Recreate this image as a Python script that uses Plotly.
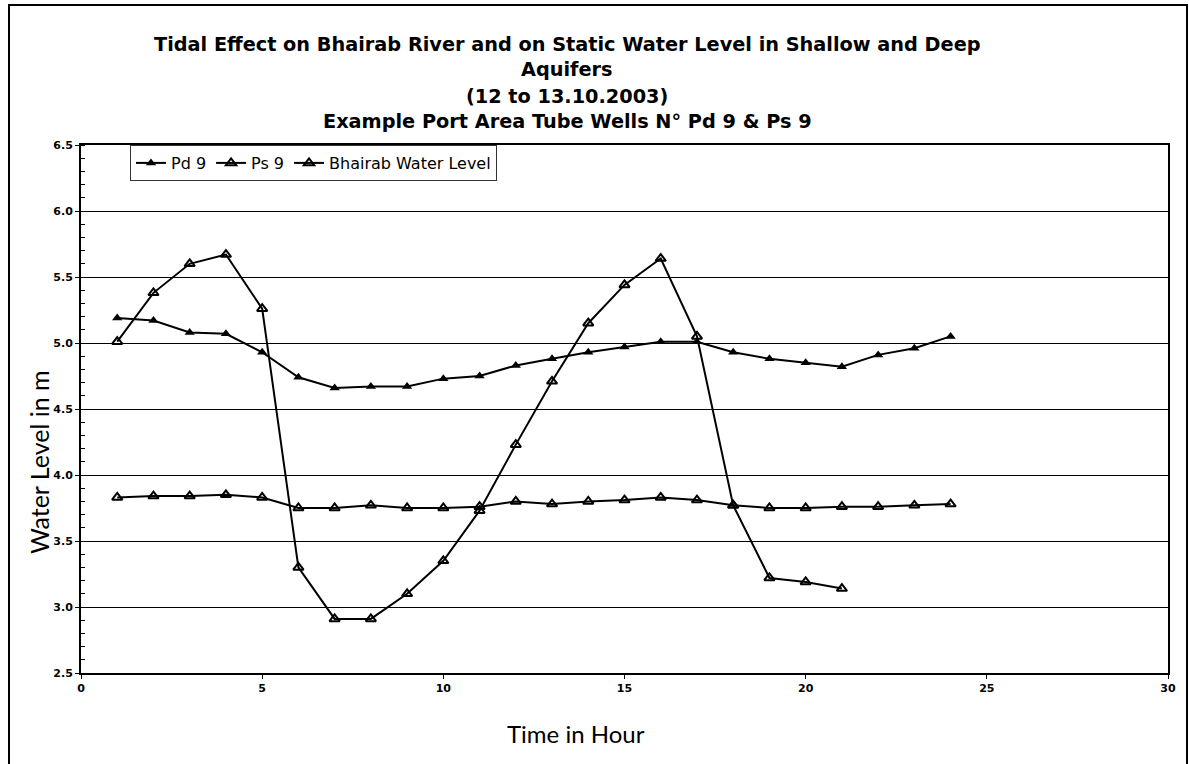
import plotly.graph_objects as go

hours_wells = list(range(1, 25))
hours_river = list(range(1, 22))

pd9 = [5.19, 5.17, 5.08, 5.07, 4.93, 4.74, 4.66, 4.67, 4.67, 4.73, 4.75, 4.83,
       4.88, 4.93, 4.97, 5.01, 5.01, 4.93, 4.88, 4.85, 4.82, 4.91, 4.96, 5.05]
ps9 = [3.83, 3.84, 3.84, 3.85, 3.83, 3.75, 3.75, 3.77, 3.75, 3.75, 3.76, 3.80,
       3.78, 3.80, 3.81, 3.83, 3.81, 3.77, 3.75, 3.75, 3.76, 3.76, 3.77, 3.78]
bhairab = [5.01, 5.38, 5.60, 5.67, 5.26, 3.30, 2.91, 2.91, 3.10, 3.35, 3.73,
           4.23, 4.71, 5.15, 5.44, 5.64, 5.05, 3.77, 3.22, 3.19, 3.14]

title_lines = [
    "Tidal Effect on Bhairab River and on Static Water Level in Shallow and Deep",
    "Aquifers",
    "(12 to 13.10.2003)",
    "Example Port Area Tube Wells N\u00b0 Pd 9 & Ps 9",
]
x_ticks = [0, 5, 10, 15, 20, 25, 30]
y_ticks = [2.5, 3.0, 3.5, 4.0, 4.5, 5.0, 5.5, 6.0, 6.5]

fig = go.Figure()
fig.add_trace(go.Scatter(x=hours_wells, y=pd9, name="Pd 9", mode="lines+markers",
                         line=dict(color="black", width=2),
                         marker=dict(symbol="triangle-up", size=9, color="black")))
fig.add_trace(go.Scatter(x=hours_wells, y=ps9, name="Ps 9", mode="lines+markers",
                         line=dict(color="black", width=2),
                         marker=dict(symbol="triangle-up-open", size=9, color="black",
                                     line=dict(width=2, color="black"))))
fig.add_trace(go.Scatter(x=hours_river, y=bhairab, name="Bhairab Water Level",
                         mode="lines+markers",
                         line=dict(color="black", width=2),
                         marker=dict(symbol="triangle-up-open", size=9, color="black",
                                     line=dict(width=2, color="black"))))

L, R, T, B = 81, 21, 145, 91
W, H = 1189, 764
ph = H - T - B
pw = W - L - R

def py(p):
    return (H - B - p) / ph

def px(p):
    return (p - L) / pw

annotations = []
for txt, yy in zip(title_lines, [45, 70, 96, 121]):
    annotations.append(dict(text="<b>" + txt + "</b>", xref="paper", yref="paper",
                            x=px(567), y=py(yy), xanchor="center", yanchor="middle",
                            showarrow=False,
                            font=dict(family="DejaVu Sans", size=19.3, color="black")))
annotations.append(dict(text="Water Level in m", xref="paper", yref="paper",
                        x=px(39), y=py(462), xanchor="center", yanchor="middle",
                        textangle=-90, showarrow=False,
                        font=dict(family="Lato", size=25, color="black")))
annotations.append(dict(text="Time in Hour", xref="paper", yref="paper",
                        x=px(576), y=py(733), xanchor="center", yanchor="middle",
                        showarrow=False,
                        font=dict(family="Lato", size=24, color="black")))

fig.update_layout(
    width=W, height=H,
    margin=dict(l=L, r=R, t=T, b=B, pad=0),
    paper_bgcolor="white", plot_bgcolor="white",
    showlegend=True,
    legend=dict(orientation="h", x=px(130), y=1.0, xanchor="left", yanchor="top",
                bgcolor="white", bordercolor="#333333", borderwidth=1,
                font=dict(family="DejaVu Sans", size=16, color="black"),
                itemwidth=30, tracegroupgap=0),
    annotations=annotations,
    shapes=[dict(type="rect", xref="paper", yref="paper",
                 x0=px(9), x1=px(1187), y0=py(775), y1=py(5),
                 line=dict(color="black", width=2), layer="below")],
)
fig.update_xaxes(range=[0, 30], tickvals=x_ticks, ticktext=[f"<b>{v}</b>" for v in x_ticks],
                 showgrid=False, zeroline=False, showline=True, linecolor="black", linewidth=2,
                 mirror=True, ticks="outside", ticklen=4, tickcolor="black",
                 tickfont=dict(family="DejaVu Sans", size=11, color="black"))
fig.update_yaxes(range=[2.5, 6.5], tickvals=y_ticks, ticktext=[f"<b>{v:.1f}</b>" for v in y_ticks],
                 showgrid=True, gridcolor="black", gridwidth=1, zeroline=False,
                 showline=True, linecolor="black", linewidth=2, mirror=True,
                 ticks="outside", ticklen=4, tickcolor="black",
                 minor=dict(ticks="inside", dtick=0.1, ticklen=4, tickcolor="black", showgrid=False),
                 tickfont=dict(family="DejaVu Sans", size=11, color="black"))

fig.write_html("out.html", config={"displayModeBar": False},
               post_script="document.body.style.margin='0';")
